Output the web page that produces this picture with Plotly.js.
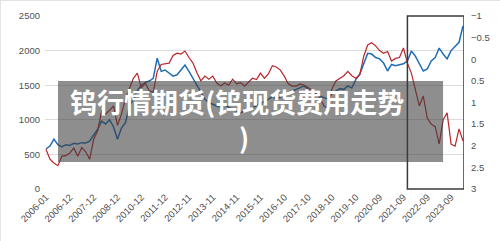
<!DOCTYPE html>
<html>
<head>
<meta charset="utf-8">
<script src="https://cdn.plot.ly/plotly-3.0.1.min.js"></script>
<style>
html,body{margin:0;padding:0;background:#fff;}
#chart{width:500px;height:241px;box-sizing:border-box;border:1px solid #e3e3e3;}
</style>
</head>
<body>
<div id="chart"></div>
<script>
// tick labels (category axis, one label every 6 samples)
const tickLabels = ["2006-01","2006-12","2007-12","2008-12","2010-12","2011-12","2012-11","2013-11","2014-11","2015-11","2016-10","2017-10","2018-10","2019-10","2020-09","2021-09","2022-09","2023-09"];

// blue series (left axis)
const bluePrice = [578,620,720,640,610,640,630,660,650,670,665,690,780,860,980,940,1000,900,720,880,
960,1200,1300,1420,1500,1540,1560,1600,1890,1700,1720,1680,1630,1650,1720,1790,1700,1600,1480,1380,
1300,1250,1220,1200,1180,1220,1180,1150,1120,1100,1130,1150,1170,1200,1240,1260,1300,1330,1300,1320,
1350,1380,1420,1440,1470,1490,1440,1400,1380,1340,1320,1300,1380,1420,1450,1440,1490,1460,1580,1660,
1800,1960,1950,1900,1880,1820,1705,1800,1780,1800,1810,1850,1994,1920,1800,1705,1734,1850,1900,2037,
1950,1880,2000,2066,2120,2355];

// red series (right axis, reversed)
const redSpread = [2.08,2.31,2.40,2.46,2.24,2.23,2.17,2.05,2.24,2.04,2.14,2.31,1.85,1.66,1.20,1.27,1.18,1.08,1.53,1.27,
0.92,0.66,0.44,0.32,0.66,0.55,0.73,0.76,0.28,0.12,0.10,0.09,-0.09,-0.14,-0.12,-0.19,-0.04,0.09,0.31,0.50,
0.39,0.46,0.39,0.55,0.62,0.55,0.60,0.46,0.57,0.54,0.62,0.54,0.44,0.47,0.32,0.44,0.34,0.15,0.18,0.25,
0.39,0.57,0.62,0.62,0.57,0.60,0.66,0.70,0.76,0.90,1.08,1.13,0.68,0.50,0.44,0.38,0.28,0.38,0.44,0.36,
-0.07,-0.33,-0.38,-0.31,-0.20,-0.14,-0.18,0.04,-0.02,-0.04,-0.26,0.09,0.32,0.68,1.08,0.85,1.36,1.50,1.56,1.96,
1.40,1.24,1.96,2.01,1.61,1.89];

const titleLine1 = "钨行情期货(钨现货费用走势";
const titleLine2 = ")";

const idx = bluePrice.map((_, i) => i);
const tickVals = tickLabels.map((_, i) => i * 6);

const tickFont = {family: "Liberation Sans, Arial, sans-serif", size: 9.5, color: "#505050"};

const traces = [
  {x: idx, y: bluePrice, type: "scatter", mode: "lines", line: {color: "#1f6db3", width: 1.5}, yaxis: "y", hoverinfo: "skip"},
  {x: idx, y: redSpread, type: "scatter", mode: "lines", line: {color: "#b8262b", width: 1.2}, yaxis: "y2", hoverinfo: "skip"}
];

const layout = {
  width: 500, height: 241,
  margin: {l: 44, r: 37, t: 15, b: 53},
  paper_bgcolor: "#ffffff", plot_bgcolor: "#ffffff",
  showlegend: false,
  xaxis: {
    range: [-0.25, 105.25], tickvals: tickVals, ticktext: tickLabels, tickangle: -45,
    showgrid: false, zeroline: false, showline: false, ticks: "", tickfont: tickFont
  },
  yaxis: {
    range: [0, 2500], dtick: 500, showgrid: true, gridcolor: "#dcdcdc", gridwidth: 1,
    zeroline: false, showline: false, ticks: "", tickfont: tickFont, ticklabelstandoff: 4
  },
  yaxis2: {
    range: [3, -1], dtick: 0.5, overlaying: "y", side: "right", showgrid: false,
    zeroline: false, showline: false, ticks: "", tickfont: tickFont, ticklabelstandoff: 6
  },
  shapes: [
    {type: "rect", xref: "x", yref: "paper", x0: 91, x1: 105.25, y0: 0, y1: 1,
     line: {color: "#3a3a3a", width: 1.5}, fillcolor: "rgba(0,0,0,0)", layer: "above"},
    {type: "rect", xref: "paper", yref: "paper", x0: 0.031, x1: 0.95, y0: 0.156, y1: 0.624,
     line: {width: 0}, fillcolor: "rgba(60,60,60,0.58)", layer: "above"}
  ],
  annotations: [
    {text: titleLine1, xref: "paper", yref: "paper", x: 0.458, y: 0.503, xanchor: "center", yanchor: "middle",
     showarrow: false, font: {family: "Noto Sans CJK SC, sans-serif", size: 27, color: "#ffffff", weight: 700}},
    {text: titleLine2, xref: "paper", yref: "paper", x: 0.475, y: 0.30, xanchor: "center", yanchor: "middle",
     showarrow: false, font: {family: "Noto Sans CJK SC, sans-serif", size: 27, color: "#ffffff", weight: 700}}
  ]
};

Plotly.newPlot("chart", traces, layout, {staticPlot: true, displayModeBar: false});
</script>
</body>
</html>
